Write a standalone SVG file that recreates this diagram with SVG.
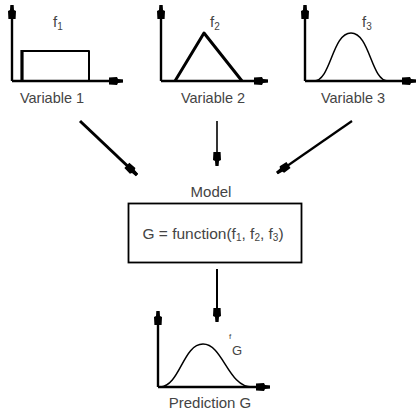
<svg xmlns="http://www.w3.org/2000/svg" width="419" height="412" viewBox="0 0 419 412">
  <style>
    .lbl { font-family: "Liberation Sans", Arial, sans-serif; fill: #444; }
    .ax { stroke: #000; stroke-width: 2.4; fill: none; marker-end: url(#ah); }
    .crv { stroke: #000; fill: none; stroke-linejoin: round; }
    .con { stroke: #000; fill: none; marker-end: url(#ah); }
  </style>
  <defs>
    <marker id="ah" viewBox="-16 -5 17 10" refX="0" refY="0" markerWidth="17" markerHeight="10" orient="auto" markerUnits="userSpaceOnUse">
      <path d="M0,-1.6 L0,1.6 L-5,2 L-6,4 L-14,3.6 L-14,-3.6 L-6,-4 L-5,-2 Z" fill="#000"/>
    </marker>
  </defs>
  <rect width="419" height="412" fill="#fff"/>

  <g id="variable1">
    <line class="ax" x1="12" y1="81" x2="12" y2="5"/>
    <line class="ax" x1="12" y1="81" x2="123" y2="81"/>
    <rect class="crv" x="22" y="51" width="67" height="30" stroke-width="2"/>
    <line x1="22" y1="50" x2="22" y2="81" stroke="#000" stroke-width="3.2"/>
    <text class="lbl" x="53" y="27" font-size="15">f<tspan font-size="10" dy="3">1</tspan></text>
    <text class="lbl" x="52" y="103" font-size="14.5" text-anchor="middle">Variable 1</text>
  </g>

  <g id="variable2">
    <line class="ax" x1="161" y1="81" x2="161" y2="5"/>
    <line class="ax" x1="161" y1="81" x2="268" y2="81"/>
    <polyline class="crv" points="175,81 204,33 242,81" stroke-width="3"/>
    <text class="lbl" x="210" y="27" font-size="15">f<tspan font-size="10" dy="3">2</tspan></text>
    <text class="lbl" x="213" y="103" font-size="14.5" text-anchor="middle">Variable 2</text>
  </g>

  <g id="variable3">
    <line class="ax" x1="305" y1="81" x2="305" y2="5"/>
    <line class="ax" x1="305" y1="81" x2="416" y2="81"/>
    <path class="crv" stroke-width="1.5" d="M314,81 C331,81 332,33 351,33 C370,33 371,81 388,81"/>
    <text class="lbl" x="362" y="27" font-size="15">f<tspan font-size="10" dy="3">3</tspan></text>
    <text class="lbl" x="353" y="103" font-size="14.5" text-anchor="middle">Variable 3</text>
  </g>

  <g id="model">
    <text class="lbl" x="211" y="197" font-size="15" text-anchor="middle">Model</text>
    <rect x="128.5" y="203.5" width="173" height="59" fill="none" stroke="#000" stroke-width="1.8"/>
    <text class="lbl" x="213" y="239" font-size="15.5" text-anchor="middle">G = function(f<tspan font-size="10" dy="2">1</tspan><tspan dy="-2">, f</tspan><tspan font-size="10" dy="2">2</tspan><tspan dy="-2">, f</tspan><tspan font-size="10" dy="2">3</tspan><tspan dy="-2">)</tspan></text>
  </g>

  <g id="prediction">
    <line class="ax" x1="158" y1="387" x2="158" y2="311"/>
    <line class="ax" x1="158" y1="387" x2="270" y2="387"/>
    <path class="crv" stroke-width="1.5" d="M160,387 C180,386 183,344 203,344 C223,344 228,387 252,387"/>
    <text class="lbl" x="229" y="339" font-size="8">f</text>
    <text class="lbl" x="232" y="355" font-size="13">G</text>
    <text class="lbl" x="210" y="408" font-size="15" text-anchor="middle">Prediction G</text>
  </g>

  <g id="connectors">
    <line class="con" x1="80" y1="121" x2="137" y2="175" stroke-width="3"/>
    <line class="con" x1="217" y1="121" x2="217" y2="166" stroke-width="1.6"/>
    <line class="con" x1="352" y1="121" x2="277" y2="173" stroke-width="2.2"/>
    <line class="con" x1="217" y1="269" x2="217" y2="322" stroke-width="2"/>
  </g>
</svg>
